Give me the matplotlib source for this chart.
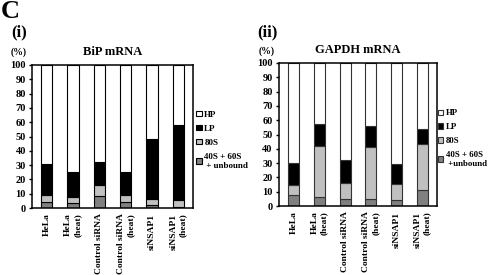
import matplotlib
matplotlib.use("Agg")
import matplotlib.pyplot as plt
import numpy as np

# Sample labels (x axis)
samples = ["HeLa", "HeLa\n(heat)", "Control siRNA", "Control siRNA\n(heat)",
           "siNSAP1", "siNSAP1\n(heat)"]

# Fractions in % (stacked from bottom): 40S+60S+unbound, 80S, LP; HP = remainder
bip_free = [4, 3.5, 8.5, 4, 2, 1]
bip_80s = [5, 4.5, 7.5, 5, 4.5, 4.5]
bip_lp = [22, 17, 16, 16, 41.5, 52.5]

gapdh_free = [8, 6, 5, 5, 4, 11]
gapdh_80s = [6.5, 36, 11, 36.5, 11.5, 32.5]
gapdh_lp = [15.5, 15, 16, 14.5, 14, 10.5]

fraction_names = ["40S + 60S\n + unbound", "80S", "LP", "HP"]
fraction_names_ii = ["40S + 60S\n +unbound", "80S", "LP", "HP"]
fraction_colors = ["#808080", "#c0c0c0", "#000000", "#ffffff"]

plt.rcParams.update({
    "font.family": ["Liberation Serif", "DejaVu Serif"],
    "font.weight": "bold",
    "axes.linewidth": 1.1,
})

W, H = 488, 275
fig = plt.figure(figsize=(W / 100, H / 100), dpi=100)


def px_axes(x0, x1, y_top, y_bot):
    return fig.add_axes([x0 / W, (H - y_bot) / H, (x1 - x0) / W, (y_bot - y_top) / H])


def draw_panel(ax, free, r80, lp, title, names, edge):
    x = np.arange(len(samples))
    free = np.array(free)
    r80 = np.array(r80)
    lp = np.array(lp)
    hp = 100 - free - r80 - lp
    parts = [free, r80, lp, hp]
    bottom = np.zeros(len(samples))
    handles = []
    for vals, col, name in zip(parts, fraction_colors, names):
        b = ax.bar(x, vals, 0.43, bottom=bottom, color=col, edgecolor=edge,
                   linewidth=0.8, label=name)
        handles.append(b)
        bottom = bottom + vals
    ax.set_xlim(-0.56, len(samples) - 0.44)
    ax.set_ylim(0, 100)
    ax.set_yticks(np.arange(0, 101, 10))
    ax.tick_params(axis="y", direction="out", length=2.5, width=1, labelsize=7.5, pad=2)
    ax.set_xticks(x)
    ax.set_xticklabels(samples, rotation=90, fontsize=6.8, va="top", ha="center",
                       multialignment="right", linespacing=1.25)
    ax.tick_params(axis="x", length=0, pad=4)
    ax.set_title(title, fontsize=9, fontweight="bold", pad=7)
    return handles[::-1]


ax1 = px_axes(32, 193, 65, 208)
h1 = draw_panel(ax1, bip_free, bip_80s, bip_lp, "BiP mRNA", fraction_names, "black")
ax1.legend(handles=h1, loc="upper left", bbox_to_anchor=(1.02, 0.68), frameon=False,
           fontsize=6.5, handlelength=0.6, handleheight=0.6, handletextpad=0.3,
           labelspacing=0.65, borderpad=0, borderaxespad=0)
fig.text(19 / W, 1 - 52 / H, "(%)", fontsize=7, fontweight="bold", ha="center", va="center")

ax2 = px_axes(279, 437, 63, 206)
h2 = draw_panel(ax2, gapdh_free, gapdh_80s, gapdh_lp, "GAPDH mRNA", fraction_names_ii, "#333333")
ax2.legend(handles=h2, loc="upper left", bbox_to_anchor=(1.005, 0.675), frameon=False,
           fontsize=6.3, handlelength=0.6, handleheight=0.6, handletextpad=0.3,
           labelspacing=0.65, borderpad=0, borderaxespad=0)
fig.text(267 / W, 1 - 51 / H, "(%)", fontsize=7, fontweight="bold", ha="center", va="center")

fig.text(1 / W, 1.0, "C", fontsize=19, fontweight="bold", ha="left", va="top")
fig.text(11 / W, 1 - 24 / H, "(i)", fontsize=12, fontweight="bold", ha="left", va="top")
fig.text(257 / W, 1 - 24 / H, "(ii)", fontsize=12, fontweight="bold", ha="left", va="top")

fig.savefig("out.png", dpi=100, facecolor="white")
